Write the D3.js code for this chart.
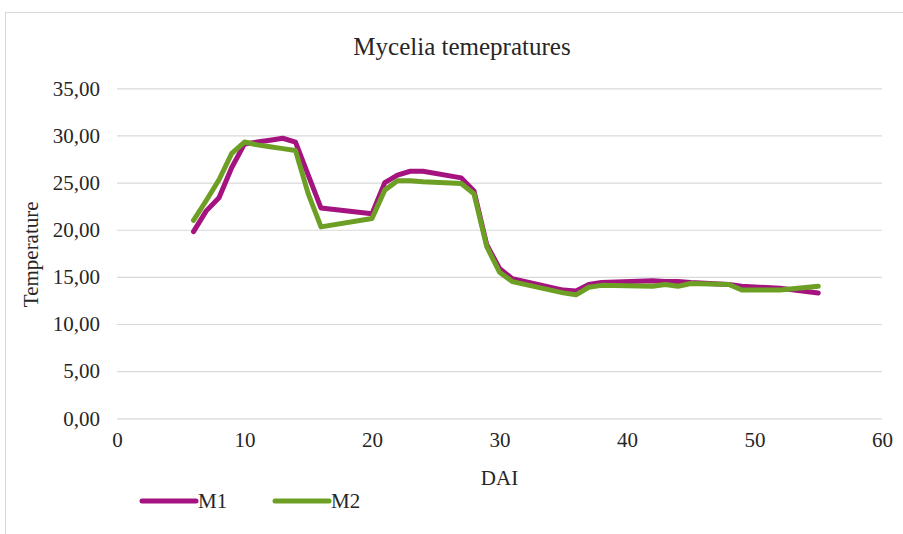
<!DOCTYPE html>
<html>
<head>
<meta charset="utf-8">
<script src="https://cdn.jsdelivr.net/npm/d3@7"></script>
<style>
  html, body { margin: 0; padding: 0; background: #fff; }
  svg { display: block; }
  text { font-family: "Liberation Serif", "Times New Roman", serif; fill: #262626; }
</style>
</head>
<body>
<svg id="chart" width="903" height="534"></svg>
<script>
// Days after inoculation (DAI) at which temperatures were logged
const days = [6, 7, 8, 9, 10, 11, 12, 13, 14, 15, 16, 20, 21, 22, 23, 24, 27, 28, 29, 30, 31, 35, 36, 37, 38, 42, 43, 44, 45, 48, 49, 52, 55];
// Mycelia temperature, series M1
const m1 = [19.8, 22.0, 23.4, 26.6, 29.1, 29.3, 29.5, 29.7, 29.3, 25.8, 22.3, 21.7, 25.0, 25.8, 26.2, 26.2, 25.5, 24.1, 18.4, 15.9, 14.8, 13.6, 13.5, 14.2, 14.4, 14.6, 14.5, 14.5, 14.4, 14.2, 14.0, 13.8, 13.3];
// Mycelia temperature, series M2
const m2 = [21.0, 23.1, 25.3, 28.1, 29.3, 29.0, 28.8, 28.6, 28.4, 23.8, 20.3, 21.2, 24.2, 25.2, 25.2, 25.1, 24.9, 23.8, 18.2, 15.5, 14.5, 13.3, 13.1, 13.9, 14.1, 14.0, 14.2, 14.0, 14.3, 14.2, 13.6, 13.6, 14.0];
const seriesNames = ["M1", "M2"];
const seriesColors = ["#A4137F", "#6C9F24"];
const yTicks = [0, 5, 10, 15, 20, 25, 30, 35];
const xTicks = [0, 10, 20, 30, 40, 50, 60];

const svg = d3.select("#chart");
const plot = { left: 117, right: 882, top: 88.3, bottom: 418.3 };

const x = d3.scaleLinear().domain([0, 60]).range([plot.left, plot.right]);
const y = d3.scaleLinear().domain([0, 35]).range([plot.bottom, plot.top]);
const serif = '"Liberation Serif", "Times New Roman", serif';

// chart frame
svg.append("rect")
  .attr("x", 5.5).attr("y", 12.5)
  .attr("width", 910).attr("height", 540)
  .attr("fill", "none").attr("stroke", "#d9d9d9").attr("stroke-width", 1);

// horizontal gridlines + y labels
const yAxis = d3.axisLeft(y)
  .tickValues(yTicks)
  .tickSize(-(plot.right - plot.left))
  .tickPadding(17)
  .tickFormat(d => d3.format(".2f")(d).replace(".", ","));
const gy = svg.append("g").attr("transform", `translate(${plot.left},0)`).call(yAxis);
gy.select(".domain").remove();
gy.selectAll(".tick line").attr("stroke", "#d9d9d9").attr("stroke-width", 1.2);
gy.selectAll(".tick text").attr("font-size", 21).attr("fill", "#262626").style("font-family", serif);

// x labels
const xAxis = d3.axisBottom(x).tickValues(xTicks).tickSize(0).tickPadding(14).tickFormat(d3.format("d"));
const gx = svg.append("g").attr("transform", `translate(0,${plot.bottom})`).call(xAxis);
gx.select(".domain").remove();
gx.selectAll(".tick text").attr("font-size", 21).attr("fill", "#262626").style("font-family", serif);

// series lines
const series = [m1, m2];
const line = d3.line().x((d, i) => x(days[i])).y(d => y(d));
series.forEach((vals, k) => {
  svg.append("path")
    .datum(vals)
    .attr("d", line)
    .attr("fill", "none")
    .attr("stroke", seriesColors[k])
    .attr("stroke-width", 5)
    .attr("stroke-linejoin", "round")
    .attr("stroke-linecap", "round");
});

// title
svg.append("text")
  .attr("x", 462).attr("y", 55)
  .attr("text-anchor", "middle")
  .attr("font-size", 25)
  .text("Mycelia temepratures");

// axis titles
svg.append("text")
  .attr("x", x(30)).attr("y", 485)
  .attr("text-anchor", "middle")
  .attr("font-size", 21)
  .text("DAI");
svg.append("text")
  .attr("transform", `translate(38,${(plot.top + plot.bottom) / 2 + 1}) rotate(-90)`)
  .attr("text-anchor", "middle")
  .attr("font-size", 21)
  .text("Temperature");

// legend
const legendX = [142, 275];
seriesNames.forEach((name, k) => {
  const g = svg.append("g").attr("transform", `translate(${legendX[k]},501)`);
  g.append("line")
    .attr("x1", 0).attr("x2", 54).attr("y1", 0).attr("y2", 0)
    .attr("stroke", seriesColors[k]).attr("stroke-width", 5).attr("stroke-linecap", "round");
  g.append("text").attr("x", 56).attr("y", 7).attr("font-size", 21).text(name);
});
</script>
</body>
</html>
